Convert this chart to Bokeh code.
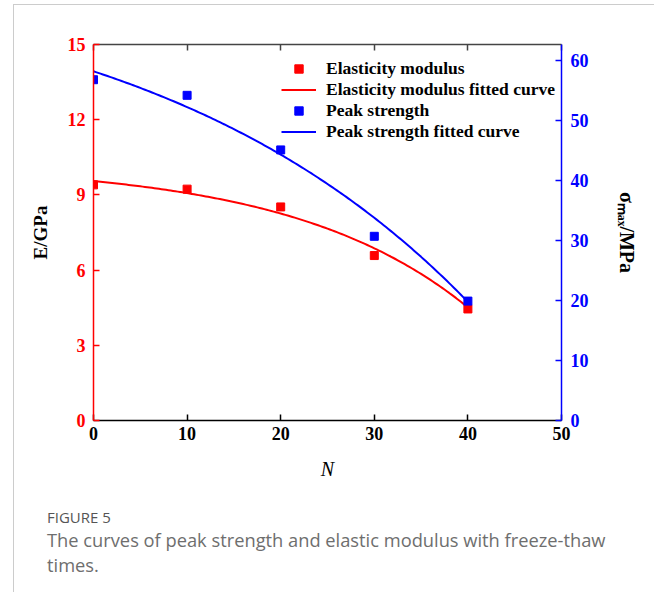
import numpy as np
from bokeh.plotting import figure
from bokeh.layouts import column
from bokeh.models import Range1d, LinearAxis, FixedTicker, Legend, LegendItem, Div
from bokeh.embed import file_html
from bokeh.resources import INLINE

# Freeze-thaw cycles and measured properties
cycles = [0, 10, 20, 30, 40]
elastic_modulus = [9.40, 9.23, 8.52, 6.58, 4.45]      # GPa
peak_strength = [56.8, 54.2, 45.1, 30.7, 19.9]        # MPa

# Fitted curves: y = a - b * exp(k * N)
E_FIT = (10.234, 0.684, 0.0531)
S_FIT = (76.27, 18.07, 0.0285)

left_ticks = [0, 3, 6, 9, 12, 15]
right_ticks = [0, 10, 20, 30, 40, 50, 60]
bottom_ticks = [0, 10, 20, 30, 40, 50]

RED = "#ff0000"
BLUE = "#0000ff"
SERIF = "Liberation Serif"

PAGE_W, PAGE_H = 654, 592
OX, OY = 14, 5                       # figure origin inside the framed page
SPLIT = 500                          # page row where the caption block starts
W = PAGE_W - OX
H = SPLIT - OY
CAP_H = PAGE_H - SPLIT
FL, FR, FT, FB = 93 - OX, 561 - OX, 44 - OY, 420 - OY   # frame edges

p = figure(width=W, height=H, output_backend="svg", toolbar_location=None,
           x_range=Range1d(0, 50), y_range=Range1d(0, 15),
           min_border_left=FL, min_border_right=W - FR,
           min_border_top=FT, min_border_bottom=H - FB,
           x_axis_location=None, y_axis_location=None)
p.extra_y_ranges = {"sig": Range1d(0, 62.67)}
p.xgrid.visible = False
p.ygrid.visible = False
p.outline_line_color = None
p.background_fill_color = "white"
p.border_fill_color = "white"


def style_axis(ax, color, label_color, ticks, standoff):
    ax.ticker = FixedTicker(ticks=ticks)
    ax.axis_line_color = color
    ax.axis_line_width = 1.5
    ax.major_tick_line_color = color
    ax.major_tick_line_width = 1.5
    ax.major_tick_in = 6
    ax.major_tick_out = 0
    ax.minor_tick_line_color = None
    ax.major_label_text_font = SERIF
    ax.major_label_text_font_style = "bold"
    ax.major_label_text_font_size = "18px"
    ax.major_label_text_color = label_color
    ax.major_label_standoff = standoff


def style_title(ax, size, font_style, standoff):
    ax.axis_label_text_font = SERIF
    ax.axis_label_text_font_style = font_style
    ax.axis_label_text_font_size = size
    ax.axis_label_text_color = "black"
    ax.axis_label_standoff = standoff


left = LinearAxis(axis_label="E/GPa")
style_axis(left, RED, RED, left_ticks, 8)
style_title(left, "19px", "bold", 14)
p.add_layout(left, "left")

right = LinearAxis(y_range_name="sig", axis_label="σₘₐₓ/MPa")
style_axis(right, BLUE, BLUE, right_ticks, 9)
style_title(right, "20px", "bold", 24)
p.add_layout(right, "right")

bottom = LinearAxis(axis_label="N")
style_axis(bottom, "black", "black", bottom_ticks, 6)
style_title(bottom, "20px", "italic", 15)
p.add_layout(bottom, "below")

top = LinearAxis()
style_axis(top, "#444444", None, bottom_ticks, 0)
top.major_label_text_font_size = "0px"
p.add_layout(top, "above")

# data and fitted curves
n_fine = np.linspace(0, 40, 161)
e_curve = E_FIT[0] - E_FIT[1] * np.exp(E_FIT[2] * n_fine)
s_curve = S_FIT[0] - S_FIT[1] * np.exp(S_FIT[2] * n_fine)

r_e_line = p.line(n_fine, e_curve, line_color=RED, line_width=2)
r_s_line = p.line(n_fine, s_curve, line_color=BLUE, line_width=2, y_range_name="sig")
r_e_pts = p.scatter(cycles, elastic_modulus, marker="square", size=8,
                    fill_color=RED, line_color=RED)
r_s_pts = p.scatter(cycles, peak_strength, marker="square", size=8,
                    fill_color=BLUE, line_color=BLUE, y_range_name="sig")

legend = Legend(items=[
    LegendItem(label="Elasticity modulus", renderers=[r_e_pts]),
    LegendItem(label="Elasticity modulus fitted curve", renderers=[r_e_line]),
    LegendItem(label="Peak strength", renderers=[r_s_pts]),
    LegendItem(label="Peak strength fitted curve", renderers=[r_s_line]),
], location=(281 - 93, 420 - 142), padding=0, margin=0, spacing=0,
    glyph_width=35, glyph_height=21, label_height=21, label_standoff=10,
    label_text_font=SERIF, label_text_font_style="bold", label_text_font_size="17.5px",
    label_text_color="black", border_line_color=None, background_fill_alpha=0)
p.add_layout(legend, "center")

# caption block underneath the chart
caption_label = "FIGURE 5"
caption_lines = ["The curves of peak strength and elastic modulus with freeze-thaw", "times."]
caption_html = (
    '<div style="font-family:\'Open Sans\',sans-serif;padding:8px 0 0 33px;white-space:nowrap;">'
    f'<div style="font-size:15px;line-height:18px;color:#555555;">{caption_label}</div>'
    '<div style="font-size:18.3px;line-height:25px;color:#6e6e6e;margin-top:1px;">'
    + "<br>".join(caption_lines) + "</div></div>"
)
cap = Div(text=caption_html, width=W, height=CAP_H, margin=0)

page = column(p, cap, spacing=0, margin=(OY - 1, 0, 0, OX - 1),
              styles={"border-left": "1px solid #cccccc",
                      "border-top": "1px solid #cccccc"})

open("out.html", "w").write(file_html(page, INLINE))
